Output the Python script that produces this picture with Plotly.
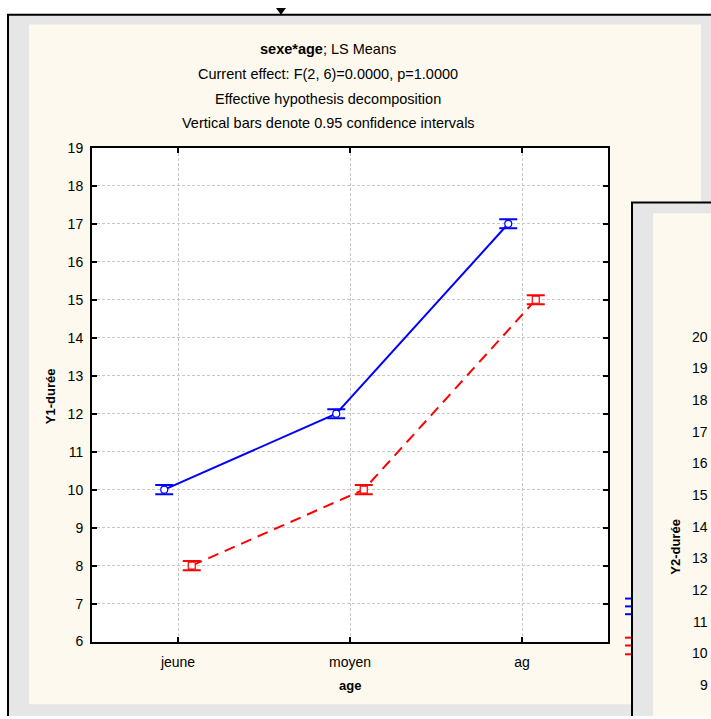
import plotly.graph_objects as go

W, H = 711, 719

# ---- data ----
categories = ["jeune", "moyen", "ag"]
blue_means = [10, 12, 17]
red_means = [8, 10, 15]
blue_ci = [0.12, 0.12, 0.12]
red_ci = [0.12, 0.12, 0.12]
y_ticks = list(range(6, 20))
y2_tick_labels = ["20", "19", "18", "17", "16", "15", "14", "13", "12", "11", "10", "9"]

title_lines = [
    "<b>sexe*age</b>; LS Means",
    "Current effect: F(2, 6)=0.0000, p=1.0000",
    "Effective hypothesis decomposition",
    "Vertical bars denote 0.95 confidence intervals",
]

FONT = "Liberation Sans, Arial, sans-serif"
CREAM = "#fdf9ee"
GRAY = "#e6e6e6"


def px(x):
    return x / W


def py(y):
    return 1 - y / H


idx = list(range(len(categories)))
off = 0.08
x_blue = [i - off for i in idx]
x_red = [i + off for i in idx]

fig = go.Figure()

fig.add_trace(go.Scatter(
    x=x_blue, y=blue_means, mode="lines+markers",
    line=dict(color="#0000ff", width=2),
    marker=dict(symbol="circle", size=7, color="white", line=dict(color="#0000ff", width=1.2)),
    error_y=dict(type="data", array=blue_ci, color="#0000ff", thickness=2, width=9),
    showlegend=False,
))
fig.add_trace(go.Scatter(
    x=x_red, y=red_means, mode="lines+markers",
    line=dict(color="#ff0000", width=2, dash="11px,7px"),
    marker=dict(symbol="square", size=7, color="white", line=dict(color="#ff0000", width=1.2)),
    error_y=dict(type="data", array=red_ci, color="#ff0000", thickness=2, width=9),
    showlegend=False,
))

shapes = []


def rect(x0, y0, x1, y1, fill, line_color=None, lw=0, layer="below"):
    shapes.append(dict(type="rect", xref="paper", yref="paper",
                       x0=px(x0), x1=px(x1), y0=py(y1), y1=py(y0),
                       fillcolor=fill, line=dict(color=line_color or fill, width=lw), layer=layer))


def hline(x0, x1, y, color, lw, layer="below"):
    shapes.append(dict(type="line", xref="paper", yref="paper",
                       x0=px(x0), x1=px(x1), y0=py(y), y1=py(y),
                       line=dict(color=color, width=lw), layer=layer))


def vline(x, y0, y1, color, lw, layer="below"):
    shapes.append(dict(type="line", xref="paper", yref="paper",
                       x0=px(x), x1=px(x), y0=py(y0), y1=py(y1),
                       line=dict(color=color, width=lw), layer=layer))


# window 1
rect(8, 7, W + 5, H + 5, GRAY)
rect(29, 17, 701, 712, CREAM)
hline(7, W + 5, 7, "black", 2)
vline(8, 7, H + 5, "black", 2)
# arrow
shapes.append(dict(type="path", xref="paper", yref="paper",
                   path=f"M {px(276)},{py(0)} L {px(286)},{py(0)} L {px(281)},{py(7)} Z",
                   fillcolor="black", line=dict(color="black", width=0), layer="below"))
# plot area background
rect(92, 143, 608, 648, "white")

# window 2
rect(632, 199, W + 5, H + 5, GRAY, layer="above")
rect(653, 210, W + 5, H + 5, CREAM, layer="above")
hline(631, W + 5, 199, "black", 2, layer="above")
vline(632, 199, H + 5, "black", 2, layer="above")

# small marks peeking out left of window 2
for yy in [604, 612, 620]:
    hline(625, 631, yy, "#0000ff", 2, layer="above")
for yy in [644, 652, 661]:
    hline(625, 631, yy, "#ff0000", 2, layer="above")

annotations = []
for i, t in enumerate(title_lines):
    annotations.append(dict(text=t, xref="paper", yref="paper", x=px(328), y=py(42 + i * 25.3),
                            showarrow=False, xanchor="center", yanchor="middle",
                            font=dict(family=FONT, size=14.5, color="black")))
annotations.append(dict(text="<b>Y1-durée</b>", xref="paper", yref="paper", x=px(50), y=py(397),
                        textangle=-90, showarrow=False, xanchor="center", yanchor="middle",
                        font=dict(family=FONT, size=13, color="black")))
annotations.append(dict(text="<b>age</b>", xref="paper", yref="paper", x=px(350), y=py(693),
                        showarrow=False, xanchor="center", yanchor="middle",
                        font=dict(family=FONT, size=13, color="black")))
# window 2 tick labels
for i, t in enumerate(y2_tick_labels):
    annotations.append(dict(text=t, xref="paper", yref="paper", x=px(710), y=py(336 + i * 32.4),
                            showarrow=False, xanchor="right", yanchor="middle",
                            font=dict(family=FONT, size=14, color="black")))
annotations.append(dict(text="<b>Y2-durée</b>", xref="paper", yref="paper", x=px(676), y=py(551),
                        textangle=-90, showarrow=False, xanchor="center", yanchor="middle",
                        font=dict(family=FONT, size=13, color="black")))

fig.update_layout(
    width=W, height=H,
    margin=dict(l=0, r=0, t=0, b=0),
    paper_bgcolor="white",
    plot_bgcolor="rgba(0,0,0,0)",
    shapes=shapes,
    annotations=annotations,
    font=dict(family=FONT, size=14, color="black"),
    xaxis=dict(
        domain=[px(92), px(608)], range=[-0.5, 2.5],
        tickvals=idx, ticktext=categories,
        showline=True, linecolor="black", linewidth=2, mirror="ticks",
        ticks="inside", ticklen=5, tickwidth=2, tickcolor="black",
        showgrid=True, gridcolor="#c8c8c8", gridwidth=1, griddash="3px,2px",
        zeroline=False, ticklabelstandoff=7,
        tickfont=dict(family=FONT, size=14, color="black"),
    ),
    yaxis=dict(
        domain=[py(648), py(143)], range=[6, 19],
        tickvals=y_ticks,
        showline=True, linecolor="black", linewidth=2, mirror="ticks",
        ticks="inside", ticklen=5, tickwidth=2, tickcolor="black",
        showgrid=True, gridcolor="#c8c8c8", gridwidth=1, griddash="3px,2px",
        zeroline=False, ticklabelstandoff=4,
        tickfont=dict(family=FONT, size=14, color="black"),
    ),
)

fig.write_html(
    "out.html",
    config={"displayModeBar": False},
    post_script="document.documentElement.style.margin='0';document.body.style.margin='0';"
                "document.body.style.padding='0';document.body.style.overflow='hidden';",
)
